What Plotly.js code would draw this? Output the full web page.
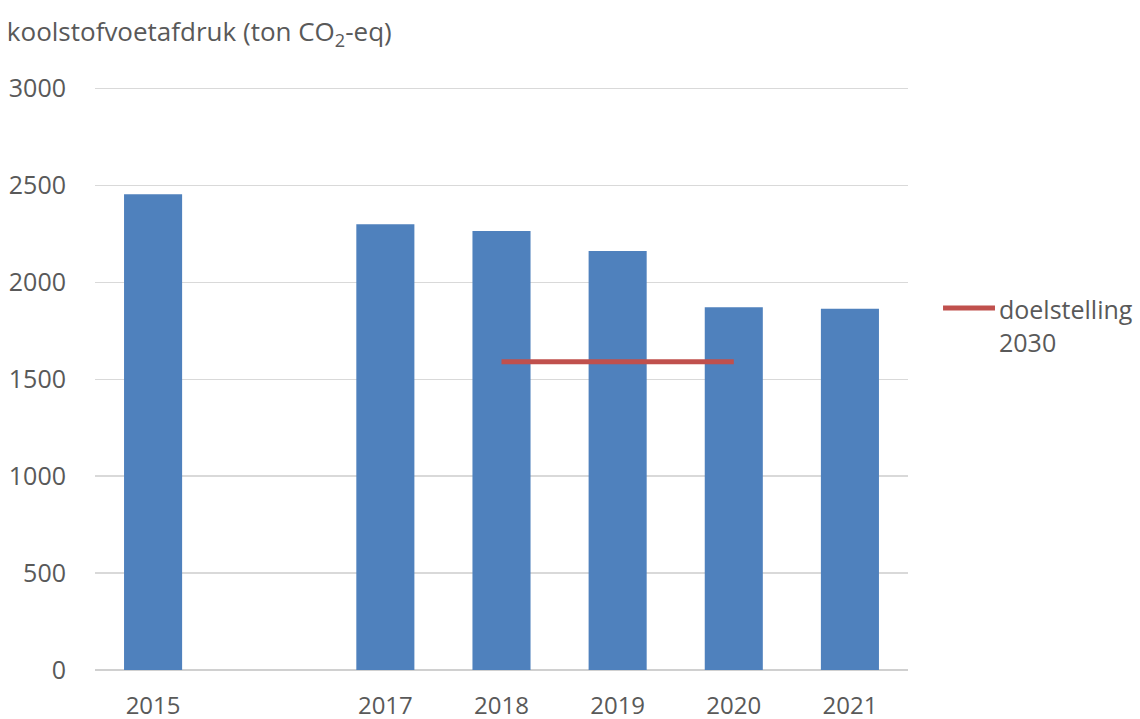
<!DOCTYPE html>
<html>
<head>
<meta charset="utf-8">
<script src="https://cdn.plot.ly/plotly-3.0.1.min.js"></script>
<style>html,body{margin:0;padding:0;background:#fff;}#chart{width:1140px;height:719px;}</style>
</head>
<body>
<div id="chart"></div>
<script>
const years = ['2015', '2016', '2017', '2018', '2019', '2020', '2021'];
const footprint = [2455, null, 2300, 2265, 2162, 1872, 1864];
const tickLabels = ['2015', '', '2017', '2018', '2019', '2020', '2021'];
const targetYears = ['2018', '2020'];
const targetValues = [1590, 1590];
const targetName = 'doelstelling<br>2030';
const yTitle = 'koolstofvoetafdruk (ton CO<sub>2</sub>-eq)';

const fontFam = '"Open Sans", "Noto Sans", sans-serif';
const grey = '#595959';
const red = '#C0504D';

const traces = [
  {
    type: 'bar',
    x: years,
    y: footprint,
    marker: {color: '#4F81BD'},
    showlegend: false,
    hoverinfo: 'x+y'
  },
  {
    type: 'scatter',
    mode: 'lines',
    x: targetYears,
    y: targetValues,
    name: targetName,
    showlegend: false,
    line: {color: red, width: 5}
  }
];

const layout = {
  width: 1140,
  height: 719,
  margin: {l: 95, r: 232, t: 87, b: 49},
  paper_bgcolor: '#ffffff',
  plot_bgcolor: '#ffffff',
  font: {family: fontFam, size: 25, color: grey},
  bargap: 0.5,
  showlegend: false,
  title: {
    text: yTitle,
    xref: 'container', yref: 'container',
    x: 0.006, xanchor: 'left',
    y: 0.955, yanchor: 'middle',
    font: {family: fontFam, size: 26, color: grey}
  },
  xaxis: {
    type: 'category',
    categoryorder: 'array',
    categoryarray: years,
    tickvals: years,
    ticktext: tickLabels,
    showgrid: false,
    showline: false,
    zeroline: false,
    ticks: '',
    ticklabelstandoff: 19,
    tickfont: {family: fontFam, size: 24, color: grey},
    fixedrange: true
  },
  yaxis: {
    range: [0, 3008],
    tickvals: [0, 500, 1000, 1500, 2000, 2500, 3000],
    showgrid: true,
    gridcolor: '#D9D9D9',
    gridwidth: 1.5,
    zeroline: true,
    zerolinecolor: '#D0D0D0',
    zerolinewidth: 2,
    showline: false,
    ticks: '',
    ticklabelstandoff: 28,
    tickfont: {family: fontFam, size: 25, color: grey},
    fixedrange: true
  },
  shapes: [
    {
      type: 'line', xref: 'paper', yref: 'paper',
      x0: 1.0431, x1: 1.107, y0: 0.621, y1: 0.621,
      line: {color: red, width: 5}
    }
  ],
  annotations: [
    {
      xref: 'paper', yref: 'paper',
      x: 1.109, y: 0.652,
      xanchor: 'left', yanchor: 'top',
      align: 'left',
      showarrow: false,
      text: targetName,
      font: {family: fontFam, size: 25, color: grey}
    }
  ]
};

Plotly.newPlot('chart', traces, layout, {displayModeBar: false, staticPlot: true});
</script>
</body>
</html>
